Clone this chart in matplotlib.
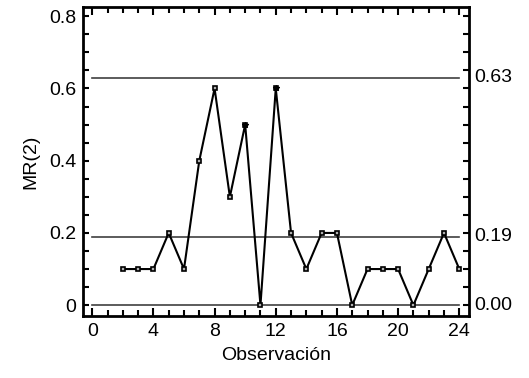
import matplotlib
matplotlib.use("Agg")
import matplotlib.pyplot as plt
from matplotlib.ticker import MultipleLocator
from matplotlib.transforms import blended_transform_factory

plt.rcParams['font.family'] = ['Liberation Sans', 'DejaVu Sans']

# rangos moviles MR(2)
obs = [2, 3, 4, 5, 6, 7, 8, 9, 10, 11, 12, 13, 14, 15, 16, 17, 18, 19, 20, 21, 22, 23, 24]
mr = [0.1, 0.1, 0.1, 0.2, 0.1, 0.4, 0.6, 0.3, 0.5, 0.0, 0.6, 0.2, 0.1, 0.2, 0.2, 0.0,
      0.1, 0.1, 0.1, 0.0, 0.1, 0.2, 0.1]
star_obs = [10, 12]
star_mr = [0.5, 0.6]

ucl = 0.63
cl = 0.19
lcl = 0.0
limit_labels = ["0.63", "0.19", "0.00"]

fig = plt.figure(figsize=(5.29, 3.78), dpi=100)
ax = fig.add_axes([0.157, 0.164, 0.730, 0.817])

for v in [ucl, cl, lcl]:
    ax.plot([0, 24], [v, v], color='#404040', linewidth=1.2)

ax.plot(obs, mr, color='black', linewidth=1.5, marker='s', markersize=3,
        markerfacecolor='#b0b0b0', markeredgecolor='black', markeredgewidth=1.2)
ax.plot(star_obs, star_mr, linestyle='none', marker='*', markersize=4, color='black')

ax.set_xlim(-0.6, 24.65)
ax.set_ylim(-0.03, 0.825)
ax.xaxis.set_major_locator(MultipleLocator(4))
ax.xaxis.set_minor_locator(MultipleLocator(1))
ax.set_yticks([0, 0.2, 0.4, 0.6, 0.8])
ax.set_yticklabels(["0", "0.2", "0.4", "0.6", "0.8"])
ax.yaxis.set_minor_locator(MultipleLocator(0.05))

ax.tick_params(which='both', direction='in', top=True, right=True, width=1.5,
               labelsize=14, colors='black', pad=5)
ax.tick_params(which='major', length=6)
ax.tick_params(which='minor', length=4)
ax.tick_params(axis='y', which='major', right=True, length=4)
for s in ax.spines.values():
    s.set_linewidth(2)

trans = blended_transform_factory(ax.transAxes, ax.transData)
for v, lab in zip([ucl, cl, lcl], limit_labels):
    ax.text(1.012, v, lab, transform=trans, va='center', ha='left', fontsize=14)

ax.set_xlabel("Observación", fontsize=14, labelpad=5)
ax.set_ylabel("MR(2)", fontsize=14, labelpad=7)

fig.savefig("out.png", dpi=100)
